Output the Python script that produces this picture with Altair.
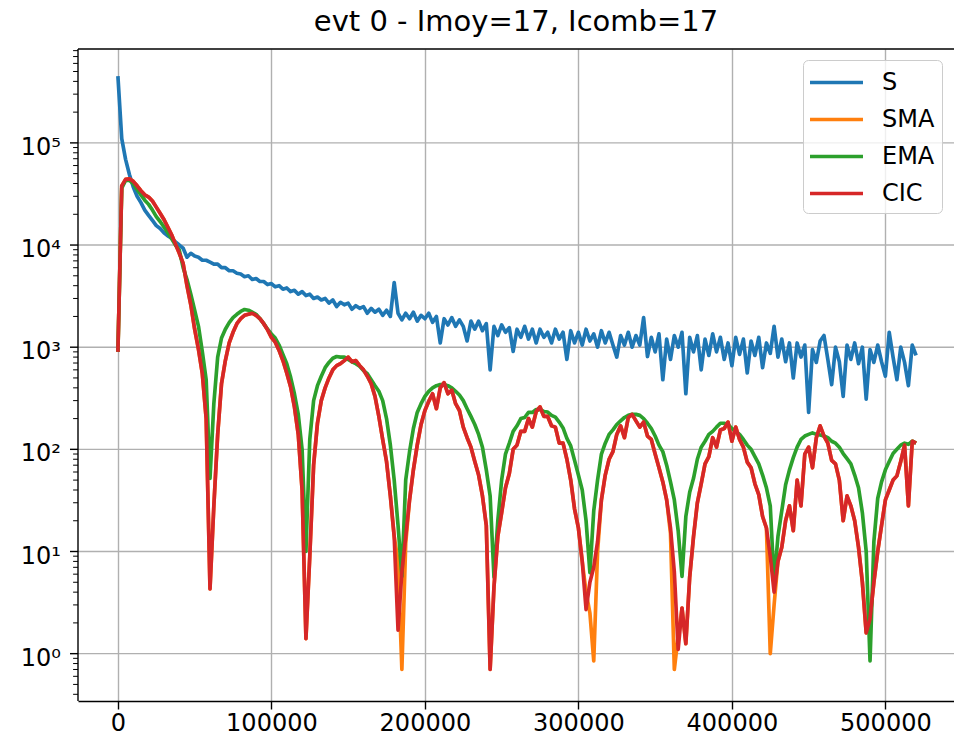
import altair as alt
import pandas as pd

# sample positions of the signal
X = list(range(0, 520001, 2500))

S = [
    450000, 110000, 69000, 49000, 37000, 30000, 26000, 22000, 19500, 17400,
    15500, 14500, 13200, 12300, 11700, 10700, 10000, 9300, 7600, 8300,
    7800, 7600, 7100, 7100, 6800, 6500, 6500, 6000, 6000, 5600,
    5600, 5300, 5200, 4900, 5000, 4600, 4700, 4400, 4400, 4100,
    4200, 3900, 4000, 3700, 3800, 3500, 3600, 3300, 3500, 3200,
    3300, 3000, 3100, 2900, 3000, 2700, 2900, 2500, 2750, 2600,
    2700, 2350, 2550, 2400, 2500, 2150, 2400, 2200, 2350, 2050,
    2300, 2000, 4300, 2150, 1850, 2150, 1900, 2200, 1800, 2050,
    1900, 2150, 1750, 2000, 1100, 1900, 1650, 1950, 1600, 1850,
    1600, 1150, 1800, 1500, 1800, 1450, 1700, 600, 1600, 1300,
    1650, 1400, 1550, 910, 1500, 1250, 1600, 1200, 1500, 1100,
    1500, 1250, 1400, 1100, 1500, 1200, 1400, 760, 1450, 1100,
    1400, 1050, 1500, 1150, 1350, 1000, 1450, 1100, 1400, 1050,
    800, 1300, 1050, 1400, 1000, 1300, 1050, 1950, 810, 1250,
    900, 1350, 480, 1200, 760, 1300, 1000, 1400, 350, 1250,
    900, 1300, 600, 1200, 830, 1350, 900, 1250, 760, 1100,
    660, 1250, 850, 1200, 560, 1150, 830, 1250, 630, 1100,
    870, 1600, 800, 1200, 720, 1100, 500, 1100, 800, 1050,
    230, 950, 710, 1150, 1300, 760, 430, 1000, 720, 330,
    1050, 760, 1100, 690, 1000, 310, 950, 710, 1050, 720,
    520, 1400, 800, 480, 1000, 710, 420, 1050, 830,
]

SMA = [
    900, 38000, 44000, 44500, 42000, 38000, 34000, 31000, 29500, 27000,
    23500, 20500, 17800, 15000, 12600, 10200, 8300, 6600, 4000, 2600,
    1500, 950, 550, 200, 4.3, 28, 140, 440, 740, 1100,
    1400, 1700, 1900, 2050, 2100, 2150, 2050, 1900, 1700, 1480,
    1250, 1120, 930, 740, 560, 410, 260, 140, 40, 1.4,
    9, 70, 180, 300, 400, 500, 600, 660, 690, 740,
    800, 720, 740, 660, 600, 520, 440, 330, 210, 125,
    76, 35, 14, 8, 0.7, 12, 32, 63, 110, 175,
    240, 295, 350, 250, 400, 450, 350, 380, 280, 240,
    165, 130, 105, 76, 56, 35, 18, 0.7, 4.5, 14,
    24, 42, 58, 100, 110, 150, 150, 200, 165, 235,
    260, 210, 210, 170, 165, 115, 115, 80, 50, 26,
    17, 8, 4, 2.5, 0.85, 10, 32, 56, 80, 95,
    140, 170, 130, 205, 220, 190, 165, 185, 135, 125,
    90, 66, 48, 32, 15, 0.7, 1.5, 2.8, 1.25, 5.6,
    14, 30, 46, 72, 85, 130, 105, 155, 160, 185,
    120, 165, 125, 105, 75, 66, 46, 36, 22, 17,
    1.0, 3, 8, 11, 20, 28, 16, 50, 28, 90,
    105, 66, 130, 170, 135, 115, 78, 72, 50, 20,
    35, 28, 20, 11, 5, 1.6, 2.2, 5, 10, 18,
    32, 40, 50, 55, 76, 110, 28, 120, 115,
]

EMA = [
    900, 36000, 43000, 43000, 40000, 35000, 31000, 27500, 25000, 22000,
    19000, 17000, 15000, 13200, 11500, 10000, 8900, 6000, 4600, 3300,
    2300, 1600, 900, 480, 52, 280, 800, 1230, 1500, 1740,
    1950, 2100, 2240, 2340, 2300, 2200, 2100, 1900, 1700, 1500,
    1350, 1230, 1050, 850, 690, 510, 350, 220, 100, 10,
    125, 300, 420, 520, 630, 710, 780, 810, 800, 800,
    760, 720, 690, 650, 590, 550, 480, 420, 370, 300,
    200, 110, 50, 18, 5.7, 50, 95, 160, 230, 280,
    330, 370, 400, 420, 430, 430, 420, 400, 370, 340,
    300, 250, 210, 175, 140, 105, 63, 35, 5.6, 20,
    50, 90, 115, 150, 170, 200, 205, 230, 230, 245,
    245, 235, 232, 215, 207, 185, 162, 128, 108, 78,
    56, 40, 20, 6.2, 25, 50, 90, 115, 140, 155,
    175, 190, 205, 215, 220, 220, 215, 200, 180, 160,
    135, 110, 95, 70, 48, 32, 16, 5.7, 22, 38,
    52, 80, 105, 120, 140, 150, 165, 180, 180, 175,
    160, 150, 140, 125, 110, 100, 85, 72, 56, 42,
    28, 5, 14, 25, 45, 63, 83, 105, 125, 135,
    140, 145, 140, 138, 135, 130, 120, 115, 105, 91,
    81, 72, 56, 42, 24, 10, 0.85, 12.5, 33, 48,
    63, 76, 91, 100, 110, 115, 112, 120, 115,
]

CIC = [
    900, 38000, 44000, 44500, 42000, 38000, 34000, 31000, 29500, 27000,
    23500, 20500, 17800, 15000, 12600, 10200, 8300, 6600, 4000, 2600,
    1500, 950, 550, 200, 4.3, 28, 140, 440, 740, 1100,
    1400, 1700, 1900, 2050, 2100, 2150, 2050, 1900, 1700, 1480,
    1250, 1120, 930, 740, 560, 410, 260, 140, 40, 1.4,
    9, 70, 180, 300, 400, 500, 600, 660, 690, 740,
    800, 720, 740, 660, 600, 520, 440, 330, 210, 125,
    76, 35, 14, 1.7, 6.3, 14, 32, 63, 110, 175,
    240, 295, 350, 250, 400, 450, 350, 380, 280, 240,
    165, 130, 105, 76, 56, 35, 18, 0.7, 4.5, 14,
    24, 42, 58, 100, 110, 150, 150, 200, 165, 235,
    260, 210, 210, 170, 165, 115, 115, 80, 50, 26,
    17, 8, 2.7, 5, 7, 12.5, 32, 56, 80, 95,
    140, 170, 130, 205, 220, 190, 165, 185, 135, 125,
    90, 66, 48, 32, 17, 6.3, 1.1, 2.8, 1.25, 5.6,
    14, 30, 46, 72, 85, 130, 105, 155, 160, 185,
    120, 165, 125, 105, 75, 66, 46, 36, 22, 17,
    9, 4, 8, 11, 20, 28, 16, 50, 28, 90,
    105, 66, 130, 170, 135, 115, 78, 72, 50, 20,
    35, 28, 20, 11, 5, 1.6, 2.2, 5, 10, 18,
    32, 40, 50, 55, 76, 110, 28, 120, 115,
]

SERIES = ["S", "SMA", "EMA", "CIC"]
COLORS = ["#1f77b4", "#ff7f0e", "#2ca02c", "#d62728"]
X_TICKS = [0, 100000, 200000, 300000, 400000, 500000]
Y_TICKS = [1, 10, 100, 1000, 10000, 100000]
Y_LABELS = ["10⁰", "10¹", "10²", "10³", "10⁴", "10⁵"]
Y_MINOR = [m * 10.0 ** e for e in range(-1, 6) for m in range(2, 10)
           if 0.344 <= m * 10.0 ** e <= 8.3e5]
TITLE = "evt 0 - Imoy=17, Icomb=17"

rows = []
for name, vals in zip(SERIES, [S, SMA, EMA, CIC]):
    for xv, v in zip(X, vals):
        rows.append({"x": xv, "v": v, "series": name})
df = pd.DataFrame(rows)
ticks_df = pd.DataFrame({"t": Y_TICKS, "lab": Y_LABELS})
minor_df = pd.DataFrame({"m": Y_MINOR})

FONT = "DejaVu Sans"
W, H = 876, 652

xscale = alt.Scale(domain=[-26000, 544700], nice=False, zero=False)
yscale = alt.Scale(type="log", domain=[0.344, 8.3e5], nice=False)
cscale = alt.Scale(domain=SERIES, range=COLORS)

xaxis = alt.Axis(values=X_TICKS, format="d", title=None, labelFont=FONT,
                 labelFontSize=24, labelColor="black", labelPadding=2,
                 tickColor="black", tickWidth=1.4, tickSize=8,
                 domainColor="black", domainWidth=1.4, grid=True,
                 gridColor="#b0b0b0", gridWidth=1.4, labelFlush=False)
legend = alt.Legend(title=None, orient="none", legendX=725, legendY=11,
                    symbolType="M-2,0L2,0", symbolSize=702, symbolStrokeWidth=3.67,
                    symbolOffset=11,
                    labelFont=FONT, labelFontSize=24, labelColor="black",
                    labelOffset=30, rowPadding=9, padding=7,
                    fillColor="rgba(255,255,255,0.8)", strokeColor="#cccccc",
                    cornerRadius=5)

# y axis (log) drawn from its tick arrays through the shared y scale
y_grid = alt.Chart(ticks_df).mark_rule(color="#b0b0b0", strokeWidth=1.4).encode(
    y=alt.Y("t:Q", scale=yscale, axis=None), x=alt.value(0), x2=alt.value(W))
y_major = alt.Chart(ticks_df).mark_rule(color="black", strokeWidth=1.4).encode(
    y=alt.Y("t:Q", scale=yscale, axis=None), x=alt.value(0), x2=alt.value(-8))
y_minor = alt.Chart(minor_df).mark_rule(color="black", strokeWidth=1.0).encode(
    y=alt.Y("m:Q", scale=yscale, axis=None), x=alt.value(0), x2=alt.value(-4.9))
y_labels = alt.Chart(ticks_df).mark_text(
    align="right", baseline="alphabetic", dy=12, font=FONT, fontSize=24,
    color="black"
).encode(y=alt.Y("t:Q", scale=yscale, axis=None), x=alt.value(-17), text="lab:N")

base = alt.Chart(df)


def line_layer(name):
    return base.transform_filter(alt.datum.series == name).mark_line(
        strokeWidth=3.67, strokeJoin="round"
    ).encode(
        x=alt.X("x:Q", scale=xscale, axis=xaxis),
        y=alt.Y("v:Q", scale=yscale, axis=None),
        color=alt.Color("series:N", scale=cscale, legend=legend),
    )


spines = alt.Chart(pd.DataFrame({"a": [0]}))
top_spine = spines.mark_rule(color="black", strokeWidth=1.4).encode(
    x=alt.value(0), x2=alt.value(W), y=alt.value(0))
left_spine = spines.mark_rule(color="black", strokeWidth=1.4).encode(
    x=alt.value(0), y=alt.value(0), y2=alt.value(H))

chart = alt.layer(
    y_grid, *[line_layer(n) for n in SERIES], y_major, y_minor, y_labels,
    top_spine, left_spine
).properties(
    width=W,
    height=H,
    title=alt.TitleParams(TITLE, font=FONT, fontSize=29, fontWeight="normal",
                          color="black", anchor="middle", baseline="alphabetic",
                          offset=17, dy=29, frame="group"),
    autosize=alt.AutoSizeParams(type="none"),
    padding={"left": 78, "top": 49, "right": 0, "bottom": 40},
).configure_view(stroke=None)

chart.save("out.html", embed_options={"renderer": "svg", "actions": False})
